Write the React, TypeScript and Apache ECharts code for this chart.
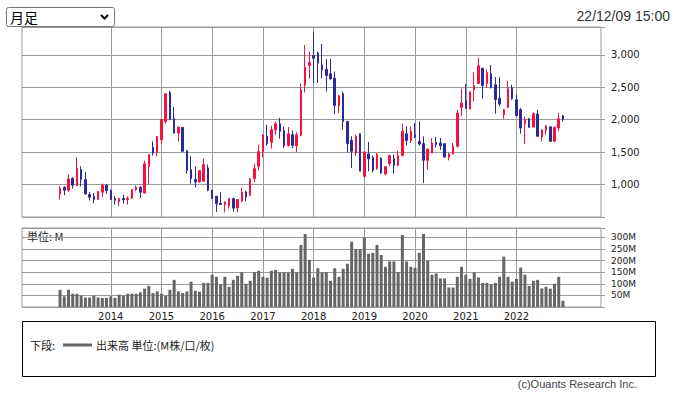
import React, { useEffect, useRef } from "react";
import * as echarts from "echarts";

// Axis categories: months from 2012-04 to 2023-09 (padding on both ends as in the reference)
const categories: string[] = [];
for (let i = 0; i < 138; i++) {
  const t = 3 + i;
  const y = 2012 + Math.floor(t / 12);
  const mo = (t % 12) + 1;
  categories.push(`${y}-${String(mo).padStart(2, "0")}`);
}
const firstDataMonth = "2013-01";
const yearLabels = ["2014", "2015", "2016", "2017", "2018", "2019", "2020", "2021", "2022"];
const priceTicks = [1000, 1500, 2000, 2500, 3000];
const volumeTicks = [50, 100, 150, 200, 250, 300];

// Monthly candles Jan 2013 .. Dec 2022 : [open, close, low, high]
const ohlc: number[][] = [
  [856, 938, 769, 974], [959, 913, 836, 974], [913, 1087, 887, 1154], [1097, 990, 938, 1113],
  [985, 1246, 974, 1420], [1230, 1077, 974, 1282], [1077, 856, 846, 1195], [846, 805, 754, 887],
  [815, 769, 713, 872], [769, 892, 769, 897], [882, 990, 810, 1015], [990, 908, 856, 1010],
  [908, 769, 764, 923], [785, 759, 692, 820], [738, 785, 667, 795], [785, 764, 708, 846],
  [769, 785, 692, 820], [785, 923, 785, 933], [923, 959, 897, 985], [959, 882, 795, 974],
  [872, 1323, 862, 1369], [1282, 1462, 1015, 1462], [1574, 1487, 1446, 1667], [1497, 1744, 1436, 1744],
  [1692, 2005, 1615, 2005], [1974, 2400, 1938, 2400], [2420, 2000, 2000, 2446], [2015, 1795, 1785, 2195],
  [1795, 1887, 1667, 1887], [1882, 1513, 1513, 1887], [1523, 1220, 1169, 1523], [1230, 1092, 1015, 1436],
  [1077, 1041, 959, 1282], [1041, 1215, 1026, 1215], [1051, 1308, 1041, 1400], [1256, 913, 897, 1308],
  [913, 785, 785, 913], [820, 703, 580, 820], [713, 692, 692, 882], [692, 728, 574, 744],
  [677, 785, 626, 785], [785, 636, 582, 800], [641, 769, 574, 769], [744, 887, 728, 949],
  [887, 810, 744, 908], [836, 1087, 821, 1102], [1092, 1246, 1036, 1318], [1282, 1508, 1215, 1615],
  [1513, 1769, 1420, 1769], [1744, 1631, 1600, 1923], [1651, 1846, 1554, 1908], [1846, 1938, 1769, 1974],
  [1938, 1820, 1708, 2026], [1831, 1600, 1564, 1897], [1600, 1785, 1590, 1887], [1769, 1605, 1564, 1836],
  [1600, 1769, 1497, 1805], [1759, 2461, 1744, 2564], [2538, 2810, 2420, 3154], [2836, 2882, 2631, 3051],
  [2990, 2949, 2564, 3350], [3026, 2872, 2564, 3051], [2846, 2769, 2641, 3169], [2779, 2682, 2436, 2933],
  [2708, 2631, 2615, 2938], [2641, 2220, 2087, 2744], [2220, 2369, 2102, 2385], [2400, 1974, 1846, 2436],
  [1974, 1631, 1497, 1974], [1682, 1513, 1256, 1744], [1487, 1744, 1446, 1769], [1785, 1205, 1205, 1785],
  [1128, 1503, 1102, 1513], [1472, 1395, 1205, 1656], [1420, 1220, 1190, 1446], [1246, 1462, 1230, 1487],
  [1405, 1180, 1164, 1420], [1164, 1277, 1144, 1277], [1323, 1446, 1282, 1462], [1400, 1297, 1169, 1462],
  [1297, 1446, 1282, 1523], [1451, 1821, 1436, 1938], [1785, 1682, 1605, 1897], [1682, 1821, 1641, 1897],
  [1769, 1733, 1718, 1949], [1667, 1626, 1600, 1974], [1631, 1374, 1026, 1744], [1374, 1549, 1231, 1549],
  [1487, 1641, 1487, 1718], [1651, 1615, 1574, 1733], [1641, 1600, 1538, 1718], [1631, 1426, 1410, 1641],
  [1426, 1477, 1374, 1487], [1472, 1590, 1462, 1641], [1590, 2103, 1574, 2154], [2190, 2256, 2062, 2477],
  [2292, 2180, 2164, 2549], [2164, 2431, 2164, 2431], [2462, 2523, 2282, 2728], [2559, 2831, 2549, 2959],
  [2795, 2528, 2323, 2795], [2559, 2728, 2487, 2779], [2708, 2497, 2482, 2846], [2538, 2313, 2092, 2656],
  [2333, 2241, 2205, 2656], [2077, 2154, 2015, 2164], [2190, 2477, 2179, 2600], [2487, 2323, 2308, 2538],
  [2308, 2062, 2051, 2385], [2154, 1872, 1785, 2180], [1938, 2010, 1626, 2051], [2015, 1882, 1882, 2026],
  [1887, 2092, 1887, 2113], [2087, 1744, 1744, 2154], [1733, 1846, 1667, 1846], [1836, 1908, 1769, 1908],
  [1892, 1667, 1667, 1892], [1667, 1882, 1667, 1897], [1872, 2015, 1821, 2103], [2062, 2010, 1974, 2077],
];

// Monthly volume (M) Jan 2013 .. Dec 2022
const volume: number[] = [
  74, 46, 74, 57, 57, 49, 41, 41, 49, 41, 39, 39,
  46, 39, 53, 49, 57, 57, 57, 63, 79, 91, 60, 67,
  57, 49, 74, 117, 67, 60, 67, 109, 70, 66, 104, 104,
  139, 130, 97, 130, 87, 117, 134, 150, 100, 113, 150, 156,
  130, 126, 156, 160, 149, 149, 149, 164, 149, 267, 314, 203,
  127, 167, 149, 150, 113, 167, 130, 164, 186, 281, 249, 249,
  299, 229, 233, 267, 224, 173, 196, 196, 150, 310, 196, 173,
  169, 233, 314, 199, 139, 144, 123, 123, 84, 84, 130, 173,
  139, 121, 149, 127, 104, 104, 97, 104, 130, 217, 130, 109,
  121, 170, 139, 91, 113, 117, 80, 87, 79, 100, 130, 27,
];

const UP = "#f2133f";
const DOWN = "#2c2a99";
const GRID = "#9a9a9a";
const FONT = "'DejaVu Sans', Verdana, sans-serif";
const JP = "'Noto Sans CJK JP', sans-serif";

export default function App() {
  const ref = useRef<HTMLDivElement>(null);
  useEffect(() => {
    if (!ref.current) return;
    const chart = echarts.init(ref.current, undefined, { renderer: "svg" });
    const start = categories.indexOf(firstDataMonth);
    const candleData = categories.map((_, i) => {
      const k = i - start;
      return k >= 0 && k < ohlc.length ? ohlc[k] : ["-", "-", "-", "-"];
    });
    const volData = categories.map((_, i) => {
      const k = i - start;
      return k >= 0 && k < volume.length ? volume[k] : "-";
    });
    const isYear = (v: string) => v.endsWith("-01") && yearLabels.includes(v.slice(0, 4));
    const xBase = {
      type: "category",
      data: categories,
      boundaryGap: false,
      axisLine: { show: false },
      axisTick: { show: false },
      splitLine: {
        show: true,
        interval: (_i: number, v: string) => isYear(v),
        lineStyle: { color: GRID, width: 1 },
      },
    };
    const option: any = {
      animation: false,
      backgroundColor: "#ffffff",
      grid: [
        { left: 22, top: 27, width: 579, height: 190, show: true, borderColor: GRID, borderWidth: 1, backgroundColor: "transparent" },
        { left: 22, top: 228, width: 579, height: 79, show: true, borderColor: GRID, borderWidth: 1, backgroundColor: "transparent" },
      ],
      xAxis: [
        { ...xBase, gridIndex: 0, axisLabel: { show: false } },
        {
          ...xBase,
          gridIndex: 1,
          axisLabel: {
            show: true,
            interval: (_i: number, v: string) => isYear(v),
            formatter: (v: string) => v.slice(0, 4),
            color: "#222",
            fontFamily: FONT,
            fontSize: 10,
            margin: 4,
          },
        },
      ],
      yAxis: [
        {
          type: "value",
          gridIndex: 0,
          position: "right",
          min: 500,
          max: 3430,
          interval: 500,
          axisLine: { show: false },
          axisTick: { show: true, length: 4, lineStyle: { color: GRID } },
          splitLine: { show: true, lineStyle: { color: GRID, width: 1 } },
          axisLabel: {
            margin: 10,
            color: "#222",
            fontFamily: FONT,
            fontSize: 10,
            formatter: (v: number) => (priceTicks.includes(v) ? v.toLocaleString("en-US") : ""),
          },
        },
        {
          type: "value",
          gridIndex: 1,
          position: "right",
          min: 0,
          max: 340,
          interval: 50,
          axisLine: { show: false },
          axisTick: { show: true, length: 4, lineStyle: { color: GRID } },
          splitLine: { show: true, lineStyle: { color: GRID, width: 1 } },
          axisLabel: {
            margin: 10,
            color: "#222",
            fontFamily: FONT,
            fontSize: 9,
            formatter: (v: number) => (volumeTicks.includes(v) ? `${v}M` : ""),
          },
        },
      ],
      series: [
        {
          type: "candlestick",
          xAxisIndex: 0,
          yAxisIndex: 0,
          data: candleData,
          barWidth: 2,
          itemStyle: { color: UP, color0: DOWN, borderColor: UP, borderColor0: DOWN, borderWidth: 1 },
        },
        {
          type: "bar",
          xAxisIndex: 1,
          yAxisIndex: 1,
          data: volData,
          barWidth: 3,
          itemStyle: { color: "#666666" },
        },
      ],
      graphic: [
        { type: "rect", shape: { x: 6.5, y: 7.5, width: 108, height: 19, r: 2 }, style: { fill: "#fff", stroke: "#767676", lineWidth: 1 } },
        { type: "text", x: 10, y: 17, style: { text: "月足", font: `14px ${JP}`, fill: "#000", verticalAlign: "middle" } },
        { type: "polyline", shape: { points: [[101, 15], [104.5, 18.5], [108, 15]] }, style: { stroke: "#000", lineWidth: 2, fill: "none" } },
        { type: "text", x: 670, y: 16, style: { text: "22/12/09 15:00", font: "14px 'Liberation Sans', Arial, sans-serif", fill: "#333", align: "right", verticalAlign: "middle" } },
        { type: "text", x: 27, y: 236, style: { text: "単位: M", font: `11px ${JP}`, fill: "#222", verticalAlign: "middle" } },
        { type: "rect", shape: { x: 22.5, y: 321.5, width: 633, height: 55 }, style: { fill: "none", stroke: "#000", lineWidth: 1 } },
        { type: "text", x: 30, y: 345, style: { text: "下段:", font: `11px ${JP}`, fill: "#222", verticalAlign: "middle" } },
        { type: "line", shape: { x1: 63, y1: 345, x2: 92, y2: 345 }, style: { stroke: "#666", lineWidth: 3 } },
        { type: "text", x: 96, y: 345, style: { text: "出来高 単位:(M株/口/枚)", font: `11px ${JP}`, fill: "#222", verticalAlign: "middle" } },
        { type: "text", x: 637, y: 384, style: { text: "(c)Ouants Research Inc.", font: "11px 'Liberation Sans', Arial, sans-serif", fill: "#444", align: "right", verticalAlign: "middle" } },
      ],
    };
    chart.setOption(option);
    return () => chart.dispose();
  }, []);
  return (
    <div
      ref={ref}
      style={{ position: "fixed", left: 0, top: 0, width: 675, height: 396, background: "#fff" }}
    />
  );
}
